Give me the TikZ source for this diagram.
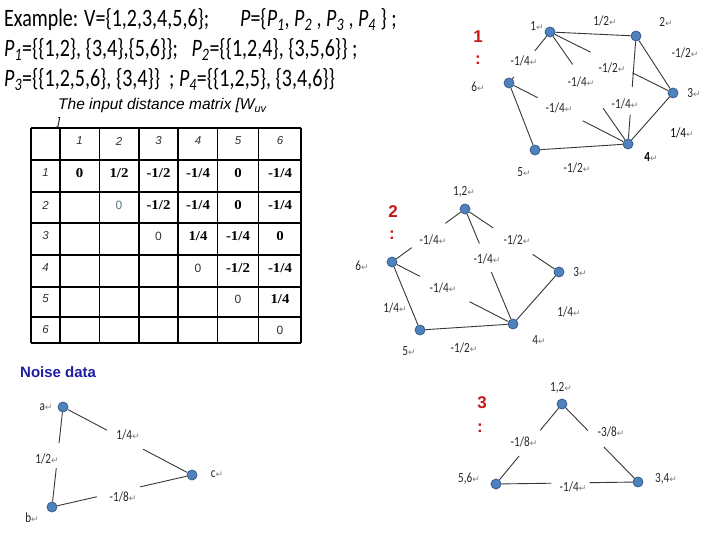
\documentclass[tikz,border=0pt]{standalone}
\usepackage{fontspec}
\setmainfont{Carlito}
\newfontfamily\clb[FakeStretch=0.8]{Carlito}
\newfontfamily\arl{Liberation Sans}
\newfontfamily\tms[FakeStretch=1.1]{Liberation Serif}
\newfontfamily\dvs{DejaVu Sans}
\usetikzlibrary{calc}
\definecolor{nodefill}{RGB}{79,129,189}
\definecolor{nodedraw}{RGB}{56,93,138}
\definecolor{edgec}{RGB}{55,55,55}
\definecolor{redl}{RGB}{200,25,25}
\definecolor{bluel}{RGB}{30,30,165}
\definecolor{retc}{RGB}{125,125,125}
\definecolor{zeroc}{RGB}{90,115,125}
\newcommand\rtn{{\dvs\color{retc}\fontsize{9}{9}\selectfont ↵}}
\newcommand\lb[1]{#1\rtn}
\newcommand\Pp[1]{\textit{P}\textsubscript{\textit{#1}}}
\newcommand\gapedge[4]{\draw[edge] (#1) -- ($(#1)!#3!(#2)$); \draw[edge] ($(#1)!#4!(#2)$) -- (#2);}
\tikzset{
  vtx/.style={circle, fill=nodefill, draw=nodedraw, line width=0.8pt, minimum size=10pt, inner sep=0pt},
  edge/.style={draw=edgec, line width=0.9pt},
  lbl/.style={font=\clb\fontsize{14}{16}\selectfont, inner sep=0pt, text=black!85},
  grn/.style={font=\arl\bfseries\fontsize{17}{19}\selectfont, text=redl, inner sep=0pt},
  ttxt/.style={font=\clb\fontsize{25}{28}\selectfont, inner sep=0pt, anchor=base west},
  hdr/.style={font=\arl\itshape\fontsize{11.5}{13}\selectfont, inner sep=0pt, text=black!80},
  val/.style={font=\tms\bfseries\fontsize{13.5}{15}\selectfont, inner sep=0pt},
  dz/.style={font=\arl\fontsize{12}{14}\selectfont, inner sep=0pt, text=black!80},
  grid/.style={line width=1.8pt, black},
}
\begin{document}
\begin{tikzpicture}[x=1pt,y=-1pt]
\useasboundingbox[fill=white] (0,0) rectangle (720,540);

% ---------- top text ----------
\node[ttxt] (t1a) at (4,27) {Example: V=\{1,2,3,4,5,6\};};
\node[ttxt] (t1b) at (240,27) {\textit{P}=\{\Pp{1}, \Pp{2} , \Pp{3} , \Pp{4} \} ;};
\node[ttxt] (t2) at (4,57) {\Pp{1}=\{\{1,2\}, \{3,4\},\{5,6\}\};\ \ \ \Pp{2}=\{\{1,2,4\}, \{3,5,6\}\} ;};
\node[ttxt] (t3) at (4,87) {\Pp{3}=\{\{1,2,5,6\}, \{3,4\}\}\ \ ; \Pp{4}=\{\{1,2,5\}, \{3,4,6\}\}};

% ---------- caption ----------
\node[font=\arl\itshape\fontsize{15.5}{17}\selectfont, inner sep=0pt, anchor=base west] (cap) at (58,110) {The input distance matrix [W\textsubscript{uv}};
\node[font=\arl\itshape\fontsize{11}{12}\selectfont, inner sep=0pt, anchor=base west] (capb) at (57,126) {]};

% ---------- table ----------
\foreach \xx in {31,60,99.5,139,178,217.5,258.5,301} \draw[grid] (\xx,127.7) -- (\xx,343.3);
\foreach \yy in {127.7,160,191.7,223.3,255,286.7,316.7,343.3} \draw[grid] (31,\yy) -- (301,\yy);
\node[hdr] (h1) at (79.5,141) {1};
\node[hdr] (h2) at (119,141) {2};
\node[hdr] (h3) at (158.5,141) {3};
\node[hdr] (h4) at (198,141) {4};
\node[hdr] (h5) at (238,141) {5};
\node[hdr] (h6) at (280,141) {6};
\node[hdr] (r1) at (45.5,173) {1};
\node[hdr] (r2) at (45.5,205) {2};
\node[hdr] (r3) at (45.5,236) {3};
\node[hdr] (r4) at (45.5,268) {4};
\node[hdr] (r5) at (45.5,299) {5};
\node[hdr] (r6) at (45.5,330) {6};
% row 1
\node[val] (c11) at (79.5,173) {0};
\node[val] (c12) at (119,173) {1/2};
\node[val] (c13) at (158.5,173) {-1/2};
\node[val] (c14) at (198,173) {-1/4};
\node[val] (c15) at (238,173) {0};
\node[val] (c16) at (280,173) {-1/4};
% row 2
\node[dz, text=zeroc] (c22) at (119,205) {0};
\node[val] (c23) at (158.5,205) {-1/2};
\node[val] (c24) at (198,205) {-1/4};
\node[val] (c25) at (238,205) {0};
\node[val] (c26) at (280,205) {-1/4};
% row 3
\node[dz] (c33) at (158.5,236) {0};
\node[val] (c34) at (198,236) {1/4};
\node[val] (c35) at (238,236) {-1/4};
\node[val] (c36) at (280,236) {0};
% row 4
\node[dz] (c44) at (198,268) {0};
\node[val] (c45) at (238,268) {-1/2};
\node[val] (c46) at (280,268) {-1/4};
% row 5
\node[dz] (c55) at (238,299) {0};
\node[val] (c56) at (280,299) {1/4};
% row 6
\node[dz] (c66) at (280,330) {0};

% ---------- graph 1 ----------
\node[vtx] (g1a) at (550,32) {};
\node[vtx] (g1b) at (636,36) {};
\node[vtx] (g1c) at (673,93) {};
\node[vtx] (g1d) at (628,144) {};
\node[vtx] (g1e) at (535,150) {};
\node[vtx] (g1f) at (509,83) {};
\draw[edge] (g1a) -- (g1b);
\draw[edge] (g1b) -- (g1c);
\draw[edge] (g1c) -- (g1d);
\draw[edge] (g1d) -- (g1e);
\draw[edge] (g1e) -- (g1f);
\gapedge{g1a}{g1f}{0.37}{0.88}
\gapedge{g1a}{g1d}{0.29}{0.68}
\gapedge{g1a}{g1c}{0.33}{0.67}
\gapedge{g1b}{g1d}{0.47}{0.73}
\gapedge{g1f}{g1d}{0.24}{0.62}
\node[grn] (g1n) at (478,37) {1};
\node[grn] (g1k) at (478,60) {:};
\node[lbl] (g1l1) at (537,26) {\lb{1}};
\node[lbl] (g1l2) at (605,21) {\lb{1/2}};
\node[lbl] (g1l3) at (666,22) {\lb{2}};
\node[lbl] (g1l4) at (685,53) {\lb{-1/2}};
\node[lbl] (g1l5) at (524,61) {\lb{-1/4}};
\node[lbl] (g1l6) at (612,68) {\lb{-1/2}};
\node[lbl] (g1l7) at (581,82) {\lb{-1/4}};
\node[lbl] (g1l8) at (478,87) {\lb{6}};
\node[lbl] (g1l9) at (694,93) {\lb{3}};
\node[lbl] (g1l10) at (559,108) {\lb{-1/4}};
\node[lbl] (g1l11) at (625,104) {\lb{-1/4}};
\node[lbl, text=black] (g1l12) at (682,133) {\lb{1/4}};
\node[lbl, text=black] (g1l13) at (651,157) {\lb{\textbf{4}}};
\node[lbl] (g1l14) at (577,168) {\lb{-1/2}};
\node[lbl] (g1l15) at (524,172) {\lb{5}};

% ---------- graph 2 ----------
\node[vtx] (g2a) at (465,209) {};
\node[vtx] (g2c) at (559,272) {};
\node[vtx] (g2d) at (513,324) {};
\node[vtx] (g2e) at (420,330) {};
\node[vtx] (g2f) at (392,262) {};
\draw[edge] (g2c) -- (g2d);
\draw[edge] (g2d) -- (g2e);
\draw[edge] (g2e) -- (g2f);
\gapedge{g2a}{g2f}{0.27}{0.73}
\gapedge{g2a}{g2c}{0.30}{0.72}
\gapedge{g2a}{g2d}{0.30}{0.55}
\gapedge{g2f}{g2d}{0.23}{0.64}
\node[grn] (g2n) at (393,212) {2};
\node[grn] (g2k) at (392,235) {:};
\node[lbl] (g2l1) at (464,192) {\lb{1,2}};
\node[lbl] (g2l2) at (433,240) {\lb{-1/4}};
\node[lbl] (g2l3) at (517,240) {\lb{-1/2}};
\node[lbl] (g2l4) at (487,259) {\lb{-1/4}};
\node[lbl] (g2l5) at (362,266) {\lb{6}};
\node[lbl] (g2l6) at (580,272) {\lb{3}};
\node[lbl] (g2l7) at (443,288) {\lb{-1/4}};
\node[lbl] (g2l8) at (395,308) {\lb{1/4}};
\node[lbl] (g2l9) at (569,312) {\lb{1/4}};
\node[lbl] (g2l10) at (539,340) {\lb{4}};
\node[lbl] (g2l11) at (409,351) {\lb{5}};
\node[lbl] (g2l12) at (464,348) {\lb{-1/2}};

% ---------- noise data ----------
\node[font=\arl\bfseries\fontsize{15}{17}\selectfont, text=bluel, inner sep=0pt, anchor=west] (nd) at (20,372) {Noise data};
\node[vtx] (na) at (63,407) {};
\node[vtx] (nb) at (52,507) {};
\node[vtx] (nc) at (192,475) {};
\gapedge{na}{nc}{0.34}{0.62}
\gapedge{na}{nb}{0.36}{0.61}
\gapedge{nb}{nc}{0.32}{0.63}
\node[lbl] (nl1) at (46,407) {\lb{a}};
\node[lbl] (nl2) at (217,474) {\lb{c}};
\node[lbl] (nl3) at (32,518) {\lb{b}};
\node[lbl] (nl4) at (128,435) {\lb{1/4}};
\node[lbl] (nl5) at (47,459) {\lb{1/2}};
\node[lbl] (nl6) at (123,497) {\lb{-1/8}};

% ---------- graph 3 ----------
\node[vtx] (h12) at (562,404) {};
\node[vtx] (h56) at (496,484) {};
\node[vtx] (h34) at (638,482) {};
\gapedge{h12}{h56}{0.33}{0.65}
\gapedge{h12}{h34}{0.34}{0.55}
\gapedge{h56}{h34}{0.39}{0.66}
\node[grn] (g3n) at (482,403) {3};
\node[grn] (g3k) at (480,428) {:};
\node[lbl] (g3l1) at (561,388) {\lb{1,2}};
\node[lbl] (g3l2) at (469,479) {\lb{5,6}};
\node[lbl] (g3l3) at (666,479) {\lb{3,4}};
\node[lbl] (g3l4) at (524,442) {\lb{-1/8}};
\node[lbl] (g3l5) at (611,432) {\lb{-3/8}};
\node[lbl] (g3l6) at (573,487) {\lb{-1/4}};
\end{tikzpicture}
\end{document}
